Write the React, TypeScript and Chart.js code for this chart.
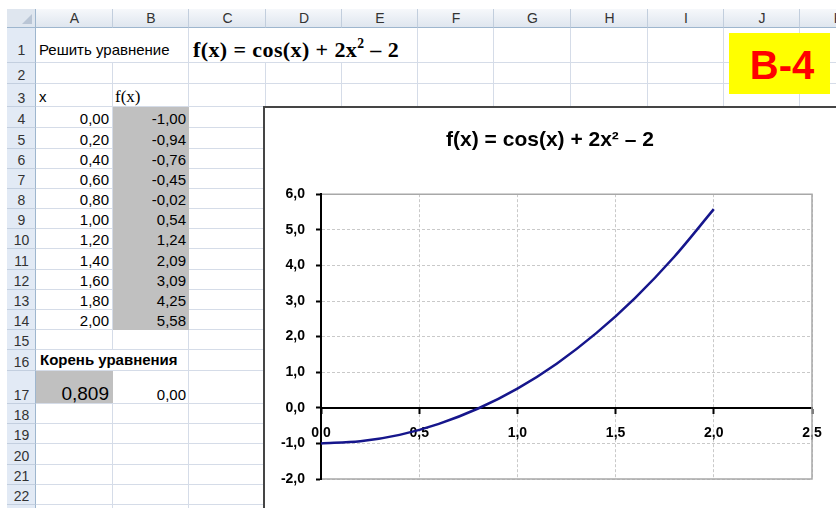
import React, { useEffect, useRef } from "react";
import { Chart, registerables } from "chart.js";

Chart.register(...registerables);

// ---------- data ----------
const xValues = [0, 0.2, 0.4, 0.6, 0.8, 1.0, 1.2, 1.4, 1.6, 1.8, 2.0];
const fValues = [-1.0, -0.94, -0.76, -0.45, -0.02, 0.54, 1.24, 2.09, 3.09, 4.25, 5.58];
const columnLetters = ["A", "B", "C", "D", "E", "F", "G", "H", "I", "J", "K"];
const sheetTitle = "Решить уравнение";
const rootLabel = "Корень уравнения";
const rootValue = "0,809";
const rootCheck = "0,00";
const variantLabel = "В-4";
const chartTitle = "f(x) = cos(x) + 2x² – 2";
const xAxisMin = 0;
const xAxisMax = 2.5;
const xAxisStep = 0.5;
const yAxisMin = -2;
const yAxisMax = 6;
const yAxisStep = 1;

// ---------- layout ----------
const COLX = [36, 113, 189, 266, 342, 418, 494, 571, 648, 724, 800, 877];
const ROWY = [28, 63, 84, 107, 128, 149, 169, 189, 209, 229, 249, 270, 290, 310, 330, 350, 371, 404, 424, 444, 465, 485, 505, 526];
const SANS = "'Liberation Sans', Arial, sans-serif";
const SERIF = "'Liberation Serif', 'Times New Roman', serif";
const GRID = "#d5dce8";

const fmt = (v: number, d: number) => Number(v).toFixed(d).replace(".", ",");

type TxtProps = {
  left?: number;
  right?: number;
  center?: number;
  baseline: number;
  size: number;
  serif?: boolean;
  bold?: boolean;
  color?: string;
  spacing?: number;
  children: React.ReactNode;
};

function Txt({ left, right, center, baseline, size, serif, bold, color, spacing, children }: TxtProps) {
  const asc = serif ? 0.8375 : 0.8465;
  const style: React.CSSProperties = {
    position: "absolute",
    top: baseline - asc * size,
    fontFamily: serif ? SERIF : SANS,
    fontSize: size,
    lineHeight: `${size}px`,
    fontWeight: bold ? "bold" : "normal",
    color: color || "#000",
    whiteSpace: "nowrap",
    letterSpacing: spacing || 0,
  };
  if (left !== undefined) style.left = left;
  if (right !== undefined) style.right = 836 - right;
  if (center !== undefined) {
    style.left = center;
    style.transform = "translateX(-50%)";
  }
  return <div style={style}>{children}</div>;
}

function Box(props: { x: number; y: number; w: number; h: number; style?: React.CSSProperties }) {
  return (
    <div
      style={{
        position: "absolute",
        left: props.x,
        top: props.y,
        width: props.w,
        height: props.h,
        boxSizing: "border-box",
        ...props.style,
      }}
    />
  );
}

const framePlugin = {
  id: "plotFrame",
  beforeDatasetsDraw(chart: any) {
    const { ctx, chartArea } = chart;
    const { left, right, top, bottom } = chartArea;
    ctx.save();
    ctx.strokeStyle = "#a8a8a8";
    ctx.lineWidth = 1.5;
    ctx.beginPath();
    ctx.moveTo(left + 1, top);
    ctx.lineTo(right, top);
    ctx.lineTo(right, bottom);
    ctx.lineTo(left + 1, bottom);
    ctx.stroke();
    ctx.restore();
  },
};

function FunctionChart() {
  const ref = useRef<HTMLCanvasElement | null>(null);
  useEffect(() => {
    if (!ref.current) return;
    const tickFont = { family: SANS, size: 14, weight: "bold" as const };
    const chart = new Chart(ref.current, {
      type: "line",
      data: {
        datasets: [
          {
            data: xValues.map((x, i) => ({ x, y: fValues[i] })),
            borderColor: "#16168c",
            borderWidth: 2.5,
            pointRadius: 0,
            cubicInterpolationMode: "monotone",
            fill: false,
            yAxisID: "y",
          },
        ],
      },
      options: {
        responsive: false,
        animation: false,
        devicePixelRatio: 1,
        layout: { padding: { left: 0, right: 0, top: 0, bottom: 29 } },
        plugins: {
          legend: { display: false },
          tooltip: { enabled: false },
          title: {
            display: true,
            text: chartTitle,
            color: "#000",
            font: { family: SANS, size: 21, weight: "bold", lineHeight: 1.2 },
            padding: { top: 20, bottom: 41 },
          },
        },
        scales: {
          x: {
            type: "linear",
            min: xAxisMin,
            max: xAxisMax,
            position: { y: 0 } as any,
            ticks: {
              stepSize: xAxisStep,
              callback: (v: any) => fmt(v, 1),
              font: tickFont,
              color: "#000",
              padding: 12,
              maxRotation: 0,
              autoSkip: false,
            },
            grid: {
              color: "#c9c9c9",
              lineWidth: 1,
              tickColor: "#000",
              tickLength: 5,
              tickWidth: 2,
            },
            border: { color: "#000", width: 2, dash: [3, 2] },
          },
          y: {
            type: "linear",
            min: yAxisMin,
            max: yAxisMax,
            position: "left",
            afterFit: (s: any) => {
              s.width = 57;
            },
            ticks: {
              stepSize: yAxisStep,
              callback: (v: any) => fmt(v, 1),
              font: tickFont,
              color: "#000",
              padding: 11,
            },
            grid: {
              color: (c: any) => (c.tick && c.tick.value === 0 ? "rgba(0,0,0,0)" : "#c9c9c9"),
              lineWidth: 1,
              tickColor: "#000",
              tickLength: 5,
              tickWidth: 2,
            },
            border: { color: "#000", width: 2, dash: [3, 2] },
          },
          yRight: {
            type: "linear",
            min: yAxisMin,
            max: yAxisMax,
            position: "right",
            afterFit: (s: any) => {
              s.width = 24;
            },
            ticks: { display: false },
            grid: { display: false, drawOnChartArea: false },
            border: { display: false },
          },
        },
      },
      plugins: [framePlugin],
    } as any);
    return () => chart.destroy();
  }, []);
  return (
    <canvas
      ref={ref}
      width={572}
      height={400}
      style={{ position: "absolute", left: 264, top: 108, width: 572, height: 400 }}
    />
  );
}

export default function App() {
  const rowsCount = ROWY.length - 1; // rows 1..23
  const els: React.ReactNode[] = [];

  // column headers
  for (let i = 0; i < columnLetters.length; i++) {
    const x = COLX[i];
    const w = COLX[i + 1] - x;
    els.push(
      <Box
        key={"ch" + i}
        x={x}
        y={9}
        w={w}
        h={19}
        style={{
          background: "linear-gradient(#f6f8fb, #dfe6ef)",
          borderRight: "1px solid #c2cedd",
          borderBottom: "1px solid #9eb6ce",
        }}
      />
    );
    els.push(
      <Txt key={"cht" + i} center={x + w / 2} baseline={23} size={14} color="#333">
        {columnLetters[i]}
      </Txt>
    );
  }
  // corner
  els.push(
    <Box
      key="corner"
      x={7}
      y={9}
      w={29}
      h={19}
      style={{ background: "#dfe6ef", borderRight: "1px solid #9eb6ce", borderBottom: "1px solid #9eb6ce" }}
    />
  );
  els.push(
    <div
      key="tri"
      style={{
        position: "absolute",
        left: 22,
        top: 14,
        width: 0,
        height: 0,
        borderLeft: "10px solid transparent",
        borderBottom: "10px solid #b9c5d5",
      }}
    />
  );

  // grid lines (cells)
  for (let r = 0; r < rowsCount; r++) {
    els.push(<Box key={"hl" + r} x={36} y={ROWY[r + 1] - 1} w={800} h={1} style={{ background: GRID }} />);
  }
  for (let i = 1; i < COLX.length; i++) {
    els.push(<Box key={"vl" + i} x={COLX[i] - 1} y={28} w={1} h={480} style={{ background: GRID }} />);
  }
  // hide gridlines under overflowing text
  const hide = (key: string, x: number, r: number) =>
    els.push(<Box key={key} x={x - 1} y={ROWY[r - 1]} w={1} h={ROWY[r] - ROWY[r - 1] - 1} style={{ background: "#fff" }} />);
  hide("h1", COLX[1], 1);
  hide("h2", COLX[3], 1);
  hide("h3", COLX[4], 1);
  hide("h4", COLX[1], 16);

  // row headers
  for (let r = 0; r < rowsCount; r++) {
    const top = ROWY[r];
    const h = ROWY[r + 1] - top;
    els.push(
      <Box
        key={"rh" + r}
        x={7}
        y={top}
        w={29}
        h={h}
        style={{ background: "#e2eaf5", borderRight: "1px solid #9eb6ce", borderBottom: "1px solid #c3cfdf" }}
      />
    );
    els.push(
      <Txt key={"rht" + r} center={21.5} baseline={r === 0 ? 55 : ROWY[r + 1] - 4} size={14} color="#333">
        {String(r + 1)}
      </Txt>
    );
  }

  // grey fills
  els.push(<Box key="fillB" x={COLX[1]} y={ROWY[3]} w={COLX[2] - COLX[1]} h={ROWY[14] - ROWY[3]} style={{ background: "#c0c0c0" }} />);
  els.push(<Box key="fillA17" x={COLX[0]} y={ROWY[16]} w={COLX[1] - COLX[0]} h={ROWY[17] - ROWY[16] - 1} style={{ background: "#c0c0c0" }} />);

  // texts
  els.push(
    <Txt key="t1" left={39} baseline={55} size={15}>
      {sheetTitle}
    </Txt>
  );
  els.push(
    <Txt key="t2" left={193} baseline={57} size={22} serif bold spacing={0.4}>
      f(x) = cos(x) + 2x
      <span style={{ fontSize: "0.62em", position: "relative", top: "-0.62em" }}>2</span> – 2
    </Txt>
  );
  els.push(
    <Txt key="t3" left={39} baseline={102} size={15}>
      x
    </Txt>
  );
  els.push(
    <Txt key="t4" left={115} baseline={102} size={17} serif>
      f(x)
    </Txt>
  );
  for (let i = 0; i < xValues.length; i++) {
    const bottom = ROWY[i + 4];
    els.push(
      <Txt key={"xa" + i} right={109} baseline={bottom - 4} size={15}>
        {fmt(xValues[i], 2)}
      </Txt>
    );
    els.push(
      <Txt key={"fb" + i} right={186} baseline={bottom - 4} size={15}>
        {fmt(fValues[i], 2)}
      </Txt>
    );
  }
  els.push(
    <Txt key="t16" left={40} baseline={365} size={15} bold>
      {rootLabel}
    </Txt>
  );
  els.push(
    <Txt key="t17a" right={109} baseline={400} size={19}>
      {rootValue}
    </Txt>
  );
  els.push(
    <Txt key="t17b" right={186} baseline={400} size={15}>
      {rootCheck}
    </Txt>
  );

  // variant box
  els.push(<Box key="yel" x={729} y={33} w={101} h={61} style={{ background: "#ffff00" }} />);
  els.push(
    <Txt key="var" center={782} baseline={79} size={40} bold color="#ff0000">
      {variantLabel}
    </Txt>
  );

  return (
    <div
      style={{
        position: "fixed",
        left: 0,
        top: 0,
        width: 836,
        height: 508,
        overflow: "hidden",
        background: "#fff",
      }}
    >
      {els}
      <Box key="chartbox" x={263} y={106} w={600} h={500} style={{ background: "#fff", border: "2px solid #454545" }} />
      <FunctionChart />
    </div>
  );
}
